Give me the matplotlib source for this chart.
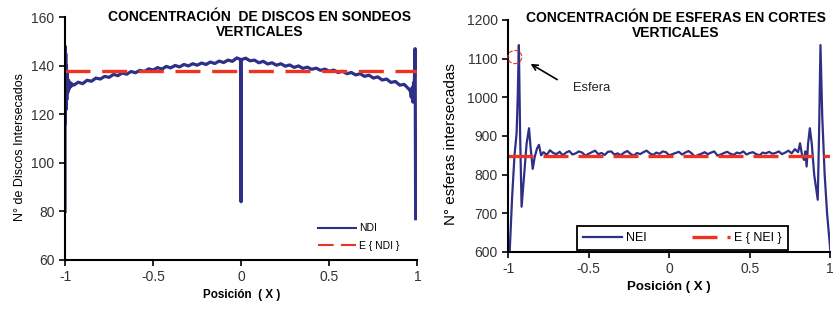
import numpy as np
import matplotlib
matplotlib.use("Agg")
import matplotlib.pyplot as plt
from matplotlib.patches import Ellipse

plt.rcParams['font.family'] = ['Liberation Sans', 'DejaVu Sans']

# ---- left chart: discos en sondeos verticales ----
ndi_edge_l_x = [-1.0, -1.0, -0.998, -0.996, -0.994, -0.992, -0.99, -0.987, -0.984, -0.98, -0.975, -0.97, -0.965, -0.96]
ndi_edge_l_y = [80, 148, 116, 145, 122, 140, 126, 137, 129, 134, 130.5, 133, 131.5, 132.5]
ndi_body_x = np.linspace(-0.95, 0.95, 77)
ndi_body_y = [132.0, 133.2, 132.6, 134.0, 133.6, 134.9, 134.5, 135.6, 135.2, 136.4,
              135.9, 137.0, 136.5, 137.6, 137.1, 138.1, 137.6, 138.7, 138.2, 139.2,
              138.6, 139.7, 139.1, 140.1, 139.5, 140.5, 139.9, 140.8, 140.2, 141.1,
              140.5, 141.5, 140.9, 141.9, 141.3, 142.3, 141.8, 143.2, 142.4, 143.1,
              142.0, 142.3, 141.2, 141.8, 140.7, 141.2, 140.2, 140.8, 139.8, 140.3,
              139.3, 139.9, 138.9, 139.4, 138.5, 139.0, 138.1, 138.6, 137.7, 138.2,
              137.2, 137.7, 136.7, 137.2, 136.2, 136.7, 135.6, 136.1, 134.9, 135.4,
              134.1, 134.5, 133.1, 133.5, 132.0, 132.3, 130.5]
ndi_spike_x = [-0.004, -0.001, 0.002]
ndi_spike_y = [142.6, 84, 142.5]
ndi_edge_r_x = [0.96, 0.965, 0.97, 0.974, 0.978, 0.981, 0.984, 0.987, 0.99]
ndi_edge_r_y = [129.5, 127, 131, 125, 133, 128, 138, 147, 77]
e_ndi = 138

# ---- right chart: esferas en cortes verticales ----
nei_edge_l_x = [-0.99, -0.975, -0.96, -0.947, -0.94, -0.933, -0.925, -0.916, -0.9, -0.885,
                -0.87, -0.86, -0.847, -0.835, -0.82, -0.808, -0.795]
nei_edge_l_y = [600, 740, 850, 907, 1000, 1135, 900, 717, 800, 880,
                920, 870, 815, 845, 868, 877, 850]
nei_body_x = np.linspace(-0.78, 0.78, 79)
nei_body_y = [858, 851, 863, 856, 853, 859, 850, 857, 861, 852,
              855, 860, 857, 849, 854, 858, 862, 853, 856, 851,
              859, 860, 852, 855, 850, 857, 861, 854, 849, 856,
              853, 858, 862, 855, 851, 857, 854, 860, 858, 850,
              853, 856, 859, 852, 857, 861, 855, 846, 851, 854,
              858, 853, 857, 860, 849, 852, 856, 859, 854, 851,
              857, 855, 860, 852, 856, 858, 853, 850, 857, 855,
              859, 854, 856, 860, 853, 857, 862, 855, 866]
nei_edge_r_x = [0.80, 0.812, 0.825, 0.837, 0.845, 0.853, 0.862, 0.873, 0.885, 0.9,
                0.922, 0.93, 0.939, 0.95, 0.965, 0.98, 1.0]
nei_edge_r_y = [858, 881, 850, 838, 860, 821, 880, 920, 880, 800,
                735, 900, 1135, 950, 800, 700, 605]
e_nei = 848

blue = '#2e2f86'
red = '#ee3322'

ndi_x = np.concatenate([ndi_edge_l_x, ndi_body_x, ndi_spike_x, ndi_edge_r_x])
ndi_y = np.concatenate([ndi_edge_l_y, ndi_body_y, ndi_spike_y, ndi_edge_r_y])
order = np.argsort(ndi_x, kind='stable')
ndi_x, ndi_y = ndi_x[order], ndi_y[order]

nei_x = np.concatenate([nei_edge_l_x, nei_body_x, nei_edge_r_x])
nei_y = np.concatenate([nei_edge_l_y, nei_body_y, nei_edge_r_y])

fig = plt.figure(figsize=(8.37, 3.09), dpi=100)
ax1 = fig.add_axes([0.0777, 0.1586, 0.421, 0.786])
ax2 = fig.add_axes([0.607, 0.1845, 0.385, 0.751])

# left plot
ax1.plot(ndi_x, ndi_y, color=blue, lw=2.3, label='NDI')
ax1.plot([-1, 1], [e_ndi, e_ndi], color=red, lw=2.4, ls=(0, (7.5, 3.5)), label='E { NDI }')
ax1.set_xlim(-1, 1)
ax1.set_ylim(60, 160)
ax1.set_yticks([60, 80, 100, 120, 140, 160])
ax1.set_xticks([-1, -0.5, 0, 0.5, 1])
ax1.set_xticklabels(['-1', '-0.5', '0', '0.5', '1'])
ax1.set_ylabel('N° de Discos Intersecados', fontsize=9)
ax1.yaxis.set_label_coords(-0.11, 0.465)
ax1.set_xlabel('Posición  ( X )', fontsize=8.4, fontweight='bold', labelpad=3)
ax1.text(0.553, 1.03, 'CONCENTRACIÓN  DE DISCOS EN SONDEOS\nVERTICALES', transform=ax1.transAxes,
         ha='center', va='top', fontsize=10, fontweight='bold', linespacing=1.1)
leg1 = ax1.legend(loc='lower right', bbox_to_anchor=(0.975, 0.0), frameon=False, fontsize=7.5,
                  handlelength=3.6, labelspacing=0.7, handletextpad=0.3)
for line in leg1.get_lines():
    line.set_linewidth(1.5)

# right plot
ax2.plot(nei_x, nei_y, color=blue, lw=1.6, label='NEI')
ax2.plot([-1, 1], [e_nei, e_nei], color=red, lw=2.4, ls=(0, (7.5, 3)), label='E { NEI }')
ax2.set_xlim(-1, 1)
ax2.set_ylim(600, 1200)
ax2.set_yticks([600, 700, 800, 900, 1000, 1100, 1200])
ax2.set_xticks([-1, -0.5, 0, 0.5, 1])
ax2.set_xticklabels(['-1', '-0.5', '0', '0.5', '1'])
ax2.set_ylabel('N° esferas intersecadas', fontsize=11)
ax2.yaxis.set_label_coords(-0.155, 0.463)
ax2.set_xlabel('Posición ( X )', fontsize=9.5, fontweight='bold', labelpad=3)
ax2.text(0.52, 1.04, 'CONCENTRACIÓN DE ESFERAS EN CORTES\nVERTICALES', transform=ax2.transAxes,
         ha='center', va='top', fontsize=10, fontweight='bold', linespacing=1.1)
leg2 = ax2.legend(loc='lower left', bbox_to_anchor=(0.214, 0.008, 0.655, 0.1), mode='expand',
                  ncol=2, fontsize=9, fancybox=False, edgecolor='black', framealpha=1,
                  borderaxespad=0, handlelength=3.1, handletextpad=0.3, borderpad=0.5)
leg2.get_frame().set_linewidth(1.3)

ax2.add_patch(Ellipse((-0.958, 1104), 0.087, 34, fill=False, edgecolor=red, lw=0.8, ls='--',
                      clip_on=False, zorder=5))
ax2.annotate('', xy=(-0.875, 1090), xytext=(-0.68, 1042),
             arrowprops=dict(arrowstyle='->', color='black', lw=1.2))
ax2.text(-0.6, 1024, 'Esfera', fontsize=9.3, ha='left', va='center', color='#222222')

for ax in (ax1, ax2):
    for s in ('top', 'right'):
        ax.spines[s].set_visible(False)
    for s in ('left', 'bottom'):
        ax.spines[s].set_linewidth(1.5)
    ax.tick_params(direction='out', length=4, width=1.2, labelsize=10, colors='black')
    ax.tick_params(axis='both', labelcolor='#333333')

fig.savefig('out.png', dpi=100)
